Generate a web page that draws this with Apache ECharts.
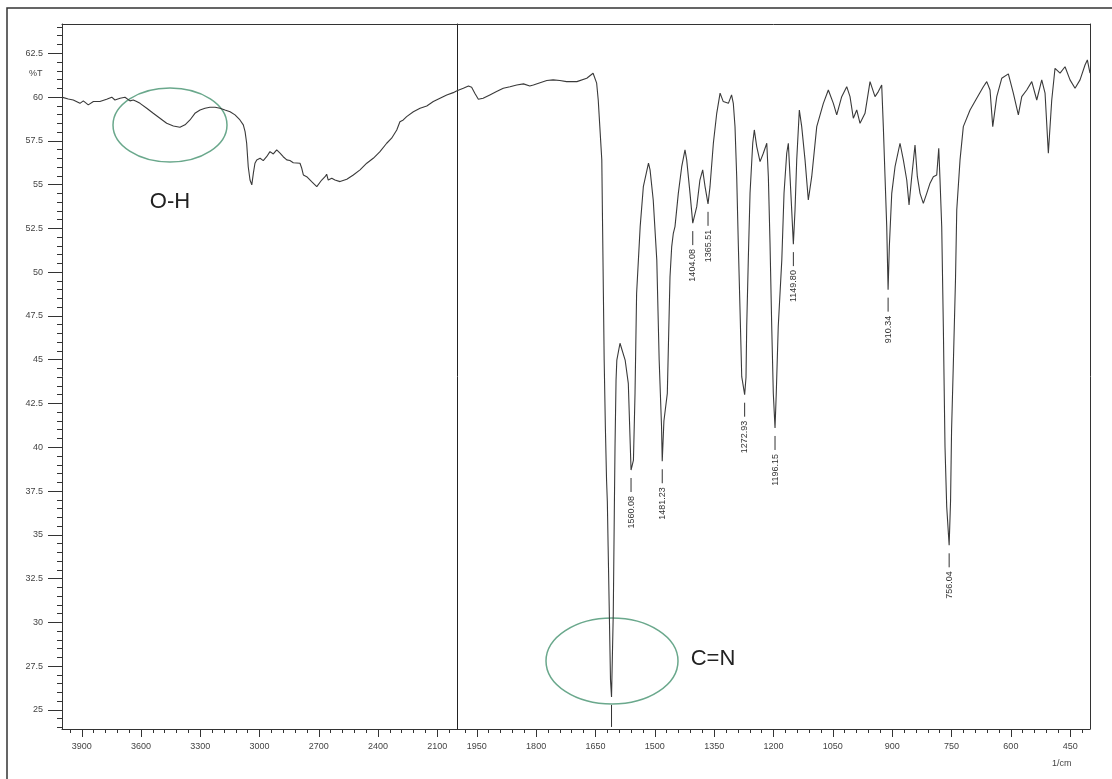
<!DOCTYPE html>
<html>
<head>
<meta charset="utf-8">
<title>IR spectrum</title>
<script src="https://cdn.jsdelivr.net/npm/echarts@6/dist/echarts.min.js"></script>
<style>
  html, body { margin: 0; padding: 0; background: #fff; }
  #chart { width: 1112px; height: 779px; }
</style>
</head>
<body>
<div id="chart"></div>
<script>
// Wavenumber (1/cm), high to low
const wavenumber = [
  3997, 3993, 3968, 3943, 3909, 3892, 3867, 3841, 3808, 3774, 3748, 3732, 3706, 3681, 3656, 3639,
  3622, 3605, 3571, 3538, 3504, 3470, 3436, 3403, 3377, 3352, 3327, 3301, 3276, 3251, 3225, 3200,
  3175, 3149, 3124, 3099, 3082, 3073, 3065, 3057, 3048, 3039, 3031, 3023, 3014, 2997, 2981, 2964,
  2947, 2930, 2913, 2896, 2880, 2862, 2846, 2829, 2795, 2786, 2778, 2761, 2736, 2710, 2702, 2685,
  2668, 2660, 2652, 2634, 2618, 2592, 2558, 2525, 2491, 2457, 2424, 2390, 2356, 2331, 2305, 2289,
  2272, 2255, 2221, 2187, 2153, 2120, 2086, 2052, 2019, 2000,
  1984, 1971, 1963, 1955, 1946, 1934, 1917, 1900, 1883, 1866, 1849, 1832, 1816, 1807, 1790, 1773,
  1757, 1740, 1723, 1697, 1672, 1656, 1647, 1643, 1639, 1634, 1632, 1630, 1628, 1625, 1622, 1620,
  1618, 1615, 1612, 1609.4, 1605, 1602.4, 1600.6, 1598, 1596, 1588, 1575, 1567, 1560.08, 1554, 1550,
  1546, 1537, 1529, 1516, 1512, 1504, 1495, 1489, 1483, 1481.23, 1477, 1468.4, 1461.6, 1457.3,
  1453.2, 1449, 1440.6, 1432, 1423.7, 1419.4, 1411, 1404.08, 1394, 1386, 1379, 1373, 1365.51,
  1360.5, 1352, 1343.5, 1335, 1327, 1314, 1306, 1301.6, 1297.3, 1293, 1289, 1284.6, 1280.3, 1276.5,
  1272.93, 1269.5, 1267.7, 1263.7, 1259.3, 1252.5, 1248.5, 1242.4, 1234, 1225.7, 1217, 1213,
  1208.8, 1204.5, 1200.5, 1196.15, 1193, 1188, 1179, 1173.4, 1166.6, 1162.5, 1158.2, 1154,
  1149.80, 1145.6, 1141.3, 1134.7, 1128.7, 1120.3, 1112, 1103.4, 1090.7, 1074, 1061.4, 1048.7,
  1040.2, 1027.6, 1014.9, 1006.6, 998.2, 989.6, 981.3, 968.7, 956, 943.4, 935, 926.5, 922.4, 918.1,
  913.8, 910.34, 907.2, 901.1, 892.8, 880.2, 871.8, 863.2, 857.4, 850.6, 842.3, 836.4, 829.6,
  821.3, 812.7, 804.3, 796, 787.4, 782.3, 779.1, 774.8, 770.7, 769, 766.5, 762.2, 756.04, 752.4,
  749.9, 745.4, 740, 736.8, 728.5, 720.2, 703.2, 686.3, 669.6, 661, 652.7, 645.8, 635.7, 623.1,
  606.4, 593.8, 581.1, 572.5, 559.9, 547.2, 534.6, 522, 513.6, 505.3, 496.7, 488.4, 475.7, 463.1,
  450.5, 437.8, 425.2, 412.6, 406.7, 400
];

// Transmittance (%T) at each wavenumber above
const transmittance = [
  59.98, 59.96, 59.89, 59.83, 59.64, 59.78, 59.55, 59.74, 59.74, 59.87, 59.99, 59.83, 59.93, 59.99, 59.78, 59.83,
  59.74, 59.64, 59.36, 59.07, 58.79, 58.50, 58.35, 58.27, 58.41, 58.69, 59.07, 59.26, 59.36, 59.42, 59.42, 59.36,
  59.26, 59.16, 58.98, 58.69, 58.41, 58.02, 57.36, 56.02, 55.26, 54.98, 55.65, 56.22, 56.41, 56.50, 56.37, 56.59,
  56.88, 56.75, 56.98, 56.79, 56.59, 56.41, 56.37, 56.25, 56.22, 55.93, 55.55, 55.45, 55.17, 54.88, 54.85, 55.26,
  55.45, 55.59, 55.26, 55.36, 55.26, 55.17, 55.30, 55.55, 55.84, 56.22, 56.50, 56.88, 57.36, 57.65, 58.12, 58.59,
  58.69, 58.88, 59.16, 59.36, 59.49, 59.74, 59.93, 60.12, 60.25, 60.36,
  60.50, 60.63, 60.56, 60.22, 59.87, 59.93, 60.12, 60.31, 60.50, 60.59, 60.69, 60.75, 60.63, 60.69, 60.82, 60.94,
  60.98, 60.94, 60.88, 60.88, 61.07, 61.36, 60.79, 59.83, 58.31, 56.41, 52.60, 48.79, 44.98, 41.17, 38.13, 36.90,
  34.32, 30.52, 26.71, 25.74, 30.52, 36.25, 40.03, 43.83, 44.98, 45.94, 44.98, 43.65, 38.70, 39.27, 43.10,
  48.79, 52.60, 54.88, 56.22, 55.84, 54.12, 50.70, 44.98, 41.17, 39.20, 41.50, 43.08, 49.74, 51.46,
  52.22, 52.60, 54.50, 56.02, 56.98, 56.41, 54.50, 52.80, 53.74, 55.26, 55.84, 54.88, 53.90,
  54.88, 57.36, 59.07, 60.22, 59.74, 59.64, 60.12, 59.64, 58.31, 55.45, 51.65, 47.84, 44.03, 43.50,
  43.00, 44.00, 46.89, 50.70, 54.50, 57.36, 58.12, 57.17, 56.31, 56.79, 57.36, 55.45,
  51.65, 46.89, 43.08, 41.10, 43.08, 46.89, 50.70, 54.50, 56.79, 57.36, 55.45, 53.55,
  51.60, 53.55, 56.41, 59.26, 58.31, 56.41, 54.12, 55.45, 58.31, 59.64, 60.40, 59.64,
  58.98, 60.02, 60.59, 60.02, 58.79, 59.26, 58.50, 59.07, 60.88, 60.02, 60.31, 60.69, 58.31, 55.45,
  52.60, 49.00, 51.46, 54.50, 56.02, 57.36, 56.41, 55.26, 53.84, 55.45, 57.26, 55.45, 54.50,
  53.93, 54.50, 55.08, 55.45, 55.55, 57.07, 55.26, 52.60, 46.89, 44.03, 40.03, 36.61, 34.40, 36.99,
  40.99, 44.79, 49.56, 53.55, 56.41, 58.31, 59.26, 59.93, 60.59, 60.88, 60.40, 58.31, 60.02, 61.07,
  61.32, 60.22, 58.98, 60.02, 60.40, 60.88, 59.83, 60.98, 60.22, 56.79, 59.83, 61.64, 61.36, 61.73,
  60.98, 60.50, 60.98, 61.83, 62.12, 61.36
];

// Peak labels (wavenumber of each labelled band)
const peakLabels = ['1560.08', '1481.23', '1404.08', '1365.51', '1272.93', '1196.15', '1149.80', '910.34', '756.04'];
// Band marked without a printed value
const unlabelledPeaks = [1609.4];

// Axis tick labels
const yTickLabels = [25, 27.5, 30, 32.5, 35, 37.5, 40, 42.5, 45, 47.5, 50, 52.5, 55, 57.5, 60, 62.5];
const xTickLabelsHigh = [3900, 3600, 3300, 3000, 2700, 2400, 2100];
const xTickLabelsLow = [1950, 1800, 1650, 1500, 1350, 1200, 1050, 900, 750, 600, 450];

// Minor tick positions
function steps(from, to, step) {
  const out = [];
  for (let v = from; v <= to + 1e-9; v += step) out.push(Math.round(v * 100) / 100);
  return out;
}
const yMinorTicks = steps(24, 64, 0.5);
const xMinorTicksHigh = steps(2040, 3960, 60);
const xMinorTicksLow = steps(420, 1980, 30);

// Spectrum split at 2000 1/cm where the scale doubles
const pairs = wavenumber.map((w, i) => [w, transmittance[i]]);
const highRange = pairs.filter(p => p[0] >= 2000);
const lowRange = pairs.filter(p => p[0] <= 2000);

function valueAt(w) {
  const i = wavenumber.indexOf(w);
  return transmittance[i];
}
const peakMarks = peakLabels.map(s => [parseFloat(s), valueAt(parseFloat(s)), s])
  .concat(unlabelledPeaks.map(w => [w, valueAt(w), '']));

const Y_MIN = 23.91, Y_MAX = 64.17;
const FONT = '"Liberation Sans", Arial, sans-serif';
const AXIS_COLOR = '#333';
const TEXT_COLOR = '#444';
const plain = v => String(v);

const leftRect = { left: 62, top: 24, width: 395, height: 705 };
const rightRect = { left: 457, top: 24, width: 633, height: 705 };

const hidden = { show: false };

const chart = echarts.init(document.getElementById('chart'));
chart.setOption({
  animation: false,
  backgroundColor: '#fff',
  grid: [
    Object.assign({ outerBoundsMode: 'none', containLabel: false }, leftRect),
    Object.assign({ outerBoundsMode: 'none', containLabel: false }, rightRect),
    Object.assign({ outerBoundsMode: 'none', containLabel: false }, leftRect),
    Object.assign({ outerBoundsMode: 'none', containLabel: false }, rightRect)
  ],
  xAxis: [
    { // 4000-2000, labelled ticks
      type: 'value', gridIndex: 0, min: 2000, max: 4000, inverse: true, position: 'bottom',
      axisLine: { show: true, lineStyle: { color: AXIS_COLOR, width: 1 } },
      axisTick: { show: true, length: 8, lineStyle: { color: AXIS_COLOR }, customValues: xTickLabelsHigh },
      axisLabel: { show: true, margin: 13, fontSize: 9, fontFamily: FONT, color: TEXT_COLOR, customValues: xTickLabelsHigh, formatter: plain },
      splitLine: hidden
    },
    { // 2000-400, labelled ticks
      type: 'value', gridIndex: 1, min: 400, max: 2000, inverse: true, position: 'bottom',
      axisLine: { show: true, lineStyle: { color: AXIS_COLOR, width: 1 } },
      axisTick: { show: true, length: 8, lineStyle: { color: AXIS_COLOR }, customValues: xTickLabelsLow },
      axisLabel: { show: true, margin: 13, fontSize: 9, fontFamily: FONT, color: TEXT_COLOR, customValues: xTickLabelsLow, formatter: plain },
      splitLine: hidden
    },
    { // 4000-2000, minor ticks
      type: 'value', gridIndex: 2, min: 2000, max: 4000, inverse: true, position: 'bottom',
      axisLine: hidden,
      axisTick: { show: true, length: 4, lineStyle: { color: AXIS_COLOR }, customValues: xMinorTicksHigh },
      axisLabel: hidden, splitLine: hidden
    },
    { // top frame line, left part
      type: 'value', gridIndex: 2, min: 2000, max: 4000, inverse: true, position: 'top',
      axisLine: { show: true, lineStyle: { color: AXIS_COLOR, width: 1 } },
      axisTick: hidden, axisLabel: hidden, splitLine: hidden
    },
    { // 2000-400, minor ticks
      type: 'value', gridIndex: 3, min: 400, max: 2000, inverse: true, position: 'bottom',
      axisLine: hidden,
      axisTick: { show: true, length: 4, lineStyle: { color: AXIS_COLOR }, customValues: xMinorTicksLow },
      axisLabel: hidden, splitLine: hidden
    },
    { // top frame line, right part
      type: 'value', gridIndex: 3, min: 400, max: 2000, inverse: true, position: 'top',
      axisLine: { show: true, lineStyle: { color: AXIS_COLOR, width: 1 } },
      axisTick: hidden, axisLabel: hidden, splitLine: hidden
    }
  ],
  yAxis: [
    { // %T, labelled ticks
      type: 'value', gridIndex: 0, min: Y_MIN, max: Y_MAX, position: 'left',
      axisLine: { show: true, lineStyle: { color: AXIS_COLOR, width: 1 } },
      axisTick: { show: true, length: 14, lineStyle: { color: AXIS_COLOR }, customValues: yTickLabels },
      axisLabel: { show: true, margin: 19, fontSize: 9, fontFamily: FONT, color: TEXT_COLOR, customValues: yTickLabels, formatter: plain },
      splitLine: hidden
    },
    { // right frame line
      type: 'value', gridIndex: 1, min: Y_MIN, max: Y_MAX, position: 'right',
      axisLine: { show: true, lineStyle: { color: AXIS_COLOR, width: 1 } },
      axisTick: hidden, axisLabel: hidden, splitLine: hidden
    },
    { // %T minor ticks
      type: 'value', gridIndex: 2, min: Y_MIN, max: Y_MAX, position: 'left',
      axisLine: hidden,
      axisTick: { show: true, length: 5, lineStyle: { color: AXIS_COLOR }, customValues: yMinorTicks },
      axisLabel: hidden, splitLine: hidden
    },
    { // divider at 2000 1/cm
      type: 'value', gridIndex: 3, min: Y_MIN, max: Y_MAX, position: 'left',
      axisLine: { show: true, lineStyle: { color: '#222', width: 1 } },
      axisTick: hidden, axisLabel: hidden, splitLine: hidden
    }
  ],
  series: [
    {
      type: 'line', xAxisIndex: 0, yAxisIndex: 0, data: highRange,
      showSymbol: false, symbol: 'none', clip: true,
      lineStyle: { color: '#3a3a3a', width: 1.1 }
    },
    {
      type: 'line', xAxisIndex: 1, yAxisIndex: 1, data: lowRange,
      showSymbol: false, symbol: 'none', clip: true,
      lineStyle: { color: '#3a3a3a', width: 1.1 }
    },
    {
      type: 'custom', xAxisIndex: 1, yAxisIndex: 1, data: peakMarks, clip: false,
      renderItem: function (params, api) {
        const p = api.coord([api.value(0), api.value(1)]);
        const text = peakMarks[params.dataIndex][2];
        const children = [{
          type: 'line',
          shape: { x1: p[0], y1: p[1] + 8, x2: p[0], y2: p[1] + (text ? 22 : 30) },
          style: { stroke: '#333', lineWidth: 1 }
        }];
        if (text) {
          children.push({
            type: 'text',
            x: p[0], y: p[1] + 26, rotation: Math.PI / 2,
            style: {
              text: text, align: 'right', verticalAlign: 'middle',
              font: '9px ' + FONT, fill: '#333'
            }
          });
        }
        return { type: 'group', children: children };
      }
    }
  ],
  graphic: [
    { // outer frame
      type: 'rect', silent: true,
      shape: { x: 7, y: 8, width: 1112, height: 780 },
      style: { fill: 'none', stroke: '#333', lineWidth: 1.5 }
    },
    {
      type: 'text', left: 29, top: 69, silent: true,
      style: { text: '%T', font: '9px ' + FONT, fill: TEXT_COLOR }
    },
    {
      type: 'text', left: 1052, top: 759, silent: true,
      style: { text: '1/cm', font: '9px ' + FONT, fill: TEXT_COLOR }
    },
    {
      type: 'ellipse', silent: true,
      shape: { cx: 170, cy: 125, rx: 57, ry: 37 },
      style: { fill: 'none', stroke: '#6aa88c', lineWidth: 1.5 }
    },
    {
      type: 'ellipse', silent: true,
      shape: { cx: 612, cy: 661, rx: 66, ry: 43 },
      style: { fill: 'none', stroke: '#6aa88c', lineWidth: 1.5 }
    },
    {
      type: 'text', silent: true, x: 170, y: 202,
      style: { text: 'O-H', font: '22px ' + FONT, fill: '#222', align: 'center', verticalAlign: 'middle' }
    },
    {
      type: 'text', silent: true, x: 713, y: 659,
      style: { text: 'C=N', font: '22px ' + FONT, fill: '#222', align: 'center', verticalAlign: 'middle' }
    }
  ]
});
</script>
</body>
</html>
